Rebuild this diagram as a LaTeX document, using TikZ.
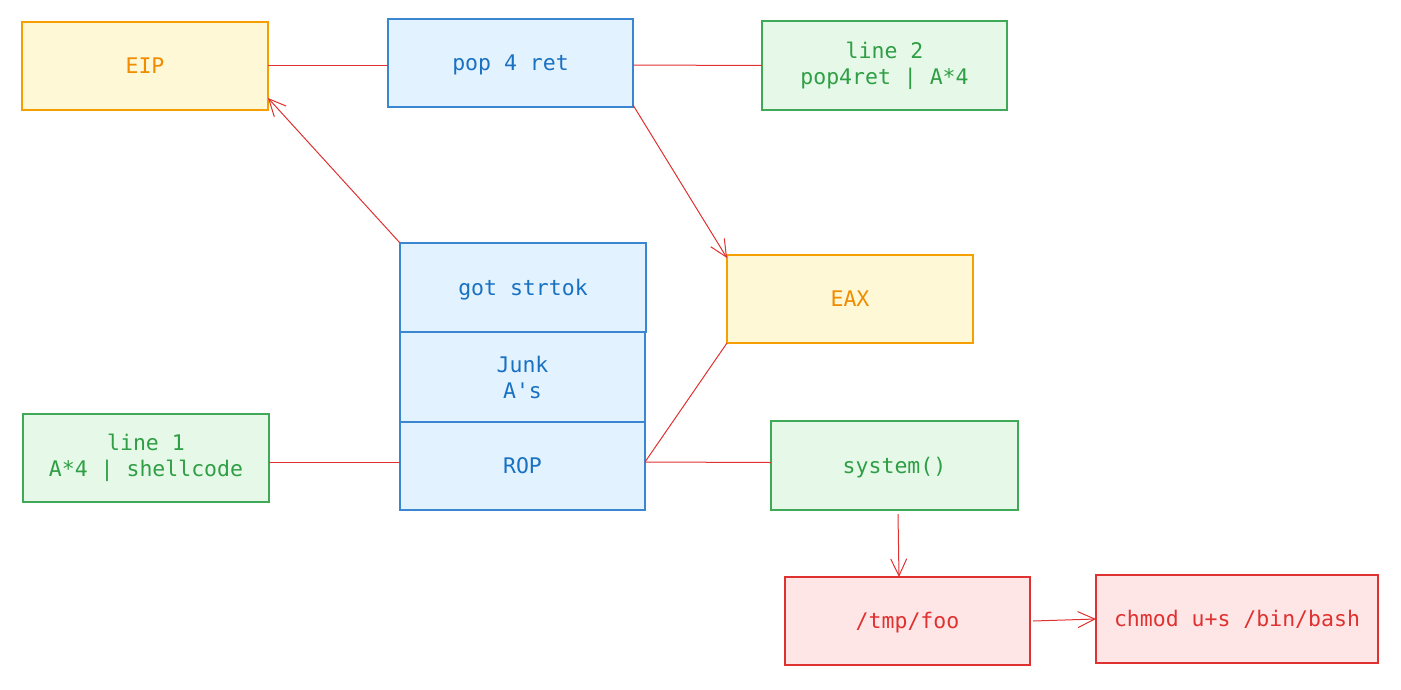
\documentclass[tikz,border=0pt]{standalone}
\usepackage{fontspec}
\setmonofont{DejaVu Sans Mono}
\usetikzlibrary{arrows.meta,calc}
\definecolor{cred}{HTML}{E03131}
\definecolor{corange}{HTML}{F59F00}
\definecolor{corangetxt}{HTML}{F08C00}
\definecolor{cyellowfill}{HTML}{FFF8D6}
\definecolor{cblue}{HTML}{1971C2}
\definecolor{cbluestroke}{HTML}{3A86D0}
\definecolor{cbluefill}{HTML}{E3F2FF}
\definecolor{cgreen}{HTML}{2F9E44}
\definecolor{cgreenstroke}{HTML}{40A957}
\definecolor{cgreenfill}{HTML}{E6F9E9}
\definecolor{credfill}{HTML}{FFE6E6}
\begin{document}
\begin{tikzpicture}[x=1pt,y=-1pt,
  box/.style={rectangle, inner sep=0pt, outer sep=0pt, line width=1.2pt, align=center,
    font=\ttfamily\fontsize{21.5}{26}\selectfont},
  oneline/.style={text height=15.7pt, text depth=0pt},
  yellowbox/.style={box, draw=corange, fill=cyellowfill, text=corangetxt},
  bluebox/.style={box, draw=cbluestroke, fill=cbluefill, text=cblue},
  greenbox/.style={box, draw=cgreenstroke, fill=cgreenfill, text=cgreen},
  redbox/.style={box, draw=cred, fill=credfill, text=cred},
  link/.style={draw=cred, line width=1pt},
  arrowlink/.style={link, -{Straight Barb[length=17pt,width=16pt,line width=1pt]}}
]
\useasboundingbox (0,0) rectangle (1401,689);

\node[yellowbox, oneline, minimum width=246pt, minimum height=88pt] (eip) at (145,66) {EIP};
\node[bluebox, oneline, minimum width=245pt, minimum height=88pt] (pop) at (510.5,63) {pop 4 ret};
\node[greenbox, minimum width=245pt, minimum height=89pt] (line2) at (884.5,65.5) {line 2\\pop4ret | A*4};
\node[bluebox, oneline, minimum width=246pt, minimum height=89pt] (got) at (523,287.5) {got strtok};
\node[bluebox, minimum width=245pt, minimum height=90pt] (junk) at (522.5,377) {Junk\\A's};
\node[bluebox, oneline, minimum width=245pt, minimum height=88pt] (rop) at (522.5,466) {ROP};
\node[greenbox, minimum width=246pt, minimum height=88pt] (line1) at (146,458) {line 1\\A*4 | shellcode};
\node[yellowbox, oneline, minimum width=246pt, minimum height=88pt] (eax) at (850,299) {EAX};
\node[greenbox, oneline, minimum width=247pt, minimum height=89pt] (sys) at (894.5,465.5) {system()};
\node[redbox, oneline, minimum width=245pt, minimum height=88pt] (tmp) at (907.5,621) {/tmp/foo};
\node[redbox, oneline, minimum width=282pt, minimum height=88pt] (chmod) at (1237,619) {chmod u+s /bin/bash};

\draw[link] ($(eip.east)+(0,-1)$) -- ($(pop.west)+(0,2)$);
\draw[link] ($(pop.east)+(0,2)$) -- (line2.west);
\draw[arrowlink] (got.north west) -- ($(eip.south east)+(0,-12)$);
\draw[arrowlink] ($(pop.south east)+(0,-2)$) -- ($(eax.north west)+(0,3)$);
\draw[link] ($(line1.east)+(0,4)$) -- ($(rop.west)+(0,-4)$);
\draw[link] ($(rop.east)+(0,-4)$) -- (eax.south west);
\draw[link] ($(rop.east)+(0,-4)$) -- ($(sys.west)+(0,-3)$);
\draw[arrowlink] ([xshift=3.5pt,yshift=-4pt]sys.south) -- ([xshift=-8.5pt]tmp.north);
\draw[arrowlink] ([xshift=3pt]tmp.east) -- (chmod.west);
\end{tikzpicture}
\end{document}
